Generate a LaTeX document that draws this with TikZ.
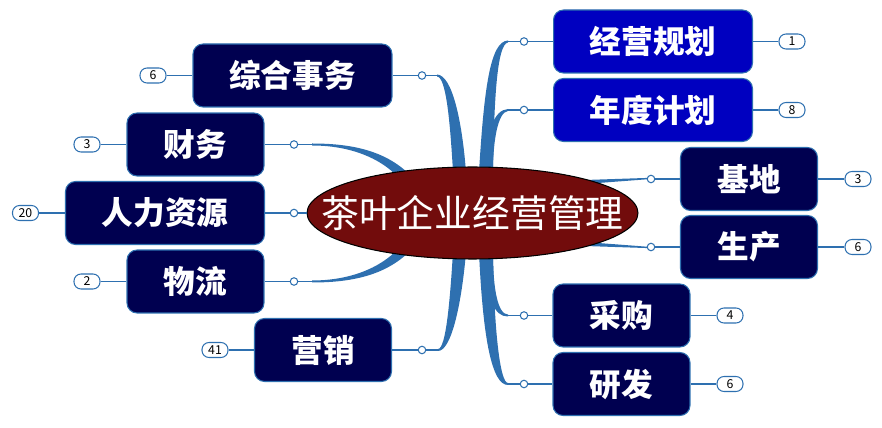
\documentclass[tikz,border=0pt]{standalone}
\usepackage{fontspec}
\usepackage{tikz}
\usetikzlibrary{shapes,backgrounds}
\newfontfamily\cjk{Noto Sans CJK SC}
\definecolor{navybox}{RGB}{0,0,80}
\definecolor{bluebox}{RGB}{0,0,192}
\definecolor{branchblue}{RGB}{46,112,176}
\definecolor{teared}{RGB}{114,12,12}

\begin{document}
\begin{tikzpicture}[x=0.02cm, y=-0.02cm,
    topic/.style={draw=branchblue, line width=0.6pt, fill=navybox, text=white, rounded corners=0.2cm,
        minimum width=2.74cm, minimum height=1.26cm, font=\cjk\bfseries\fontsize{18}{20}\selectfont},
    wide/.style={minimum width=3.98cm},
    count/.style={draw=branchblue, line width=0.6pt, fill=white, rounded corners=0.14cm, inner sep=0pt,
        minimum width=0.52cm, minimum height=0.3cm, font=\cjk\fontsize{7}{8}\selectfont},
    dot/.style={circle, draw=branchblue, line width=0.6pt, fill=white, inner sep=0pt, minimum size=0.15cm},
    link/.style={draw=branchblue, line width=0.8pt},
    branch/.style={fill=branchblue}]
        \useasboundingbox (0,0) rectangle (882,428);

        % Central topic
        \node[ellipse, draw=black, line width=0.6pt, fill=teared, text=white, inner xsep=-0.9cm, inner ysep=0pt,
            minimum width=6.62cm, minimum height=1.84cm, font=\cjk\fontsize{21.5}{24}\selectfont]
            (center) at (472.5,213) {茶叶企业经营管理};

        % Boxes
        \node[topic, wide] (admin) at (292.5,75.5) {综合事务};
        \node[topic] (finance) at (195.5,144.5) {财务};
        \node[topic, wide] (hr) at (165,213) {人力资源};
        \node[topic] (logistics) at (195.5,281.5) {物流};
        \node[topic] (marketing) at (323,350) {营销};
        \node[topic, wide, fill=bluebox] (planning) at (653,41.5) {经营规划};
        \node[topic, wide, fill=bluebox] (annual) at (653,110) {年度计划};
        \node[topic] (base) at (749,179) {基地};
        \node[topic] (production) at (749,247) {生产};
        \node[topic] (purchase) at (621.5,315.5) {采购};
        \node[topic] (rnd) at (621.5,384) {研发};

        % Counters
        \node[count] (n-admin) at (153,75.5) {6};
        \node[count] (n-finance) at (87,144.5) {3};
        \node[count] (n-hr) at (25.5,213) {20};
        \node[count] (n-logistics) at (87,281.5) {2};
        \node[count] (n-marketing) at (215,350) {41};
        \node[count] (n-planning) at (792,41.5) {1};
        \node[count] (n-annual) at (792,110) {8};
        \node[count] (n-base) at (858,179) {3};
        \node[count] (n-production) at (858,247) {6};
        \node[count] (n-purchase) at (730,315.5) {4};
        \node[count] (n-rnd) at (730,384) {6};

        % Joints
        \node[dot] (c-admin) at (422,75.5) {};
        \node[dot] (c-finance) at (294,144.5) {};
        \node[dot] (c-hr) at (294,213) {};
        \node[dot] (c-logistics) at (294,281.5) {};
        \node[dot] (c-marketing) at (422,350) {};
        \node[dot] (c-planning) at (524,41.5) {};
        \node[dot] (c-annual) at (524,110) {};
        \node[dot] (c-base) at (651,179) {};
        \node[dot] (c-production) at (651,247) {};
        \node[dot] (c-purchase) at (524,315.5) {};
        \node[dot] (c-rnd) at (524,384) {};

        % Tapered branch ends
        \coordinate (t-admin) at (437,75.5);
        \coordinate (t-finance) at (312,144.5);
        \coordinate (t-logistics) at (312,281.5);
        \coordinate (t-marketing) at (438,350);
        \coordinate (t-planning) at (508,41.5);
        \coordinate (t-annual) at (508,110);
        \coordinate (t-purchase) at (508,315.5);
        \coordinate (t-rnd) at (508,384);

        \begin{scope}[on background layer]
            \fill[branch] (453,172) .. controls (450,120) and (446,77) .. (437,76.5) -- (437,74.5)
                .. controls (452,75) and (462,120) .. (466,172) -- cycle;
            \fill[branch] (479,172) .. controls (484,90) and (490,41) .. (508,40.5) -- (508,42.5)
                .. controls (497,44) and (494,100) .. (493,172) -- cycle;
            \fill[branch] (483,172) .. controls (487,130) and (494,110) .. (508,109) -- (508,111)
                .. controls (498,112) and (493,140) .. (493,172) -- cycle;
            \fill[branch] (453,252) .. controls (450,300) and (446,349) .. (438,349) -- (438,351)
                .. controls (452,351) and (462,300) .. (466,252) -- cycle;
            \fill[branch] (479,252) .. controls (483,340) and (492,385) .. (508,385) -- (508,383)
                .. controls (500,383) and (494,330) .. (493,252) -- cycle;
            \fill[branch] (484,252) .. controls (487,300) and (494,316.5) .. (508,316.5) -- (508,314.5)
                .. controls (498,314.5) and (493,290) .. (493,252) -- cycle;
            \fill[branch] (312,143.5) .. controls (350,143.5) and (385,150) .. (410,175) -- (398,177)
                .. controls (380,158) and (350,145.5) .. (312,145.5) -- cycle;
            \fill[branch] (312,282.5) .. controls (350,282.5) and (385,276) .. (410,251) -- (398,249)
                .. controls (380,268) and (350,280.5) .. (312,280.5) -- cycle;
            \fill[branch] (585,184) -- (c-base.center) -- ++(0,-1.2) -- (585,180) -- cycle;
            \fill[branch] (585,242) -- (c-production.center) -- ++(0,1.2) -- (585,246) -- cycle;
        \end{scope}

        % Links
        \foreach \n in {admin,finance,logistics,marketing,planning,annual,purchase,rnd}
            \draw[link] (t-\n) -- (c-\n);
        \draw[link] (c-hr) -- (center);
        \foreach \n in {admin,finance,hr,logistics,marketing,planning,annual,base,production,purchase,rnd} {
            \draw[link] (c-\n) -- (\n);
            \draw[link] (\n) -- (n-\n);
        }
    \end{tikzpicture}
\end{document}
